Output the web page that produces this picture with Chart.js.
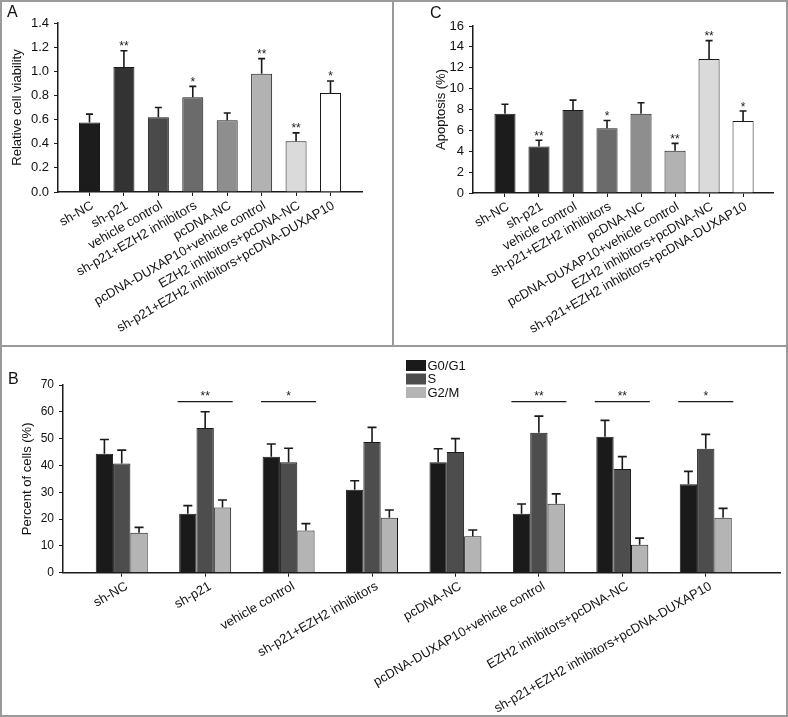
<!DOCTYPE html>
<html>
<head>
<meta charset="utf-8">
<script src="https://cdn.jsdelivr.net/npm/chart.js@4.4.0/dist/chart.umd.min.js"></script>
<style>
html, body { margin: 0; padding: 0; background: #fff; }
#fig { position: relative; width: 788px; height: 717px; overflow: hidden; }
canvas { position: absolute; }
.lbl { position: absolute; font: 16px "Liberation Sans", Arial, sans-serif; color: #111; }
.rule { position: absolute; background: #9a9a9a; }
</style>
</head>
<body>
<div id="fig">
  <canvas id="chartA" width="393" height="346" style="left:0;top:0"></canvas>
  <canvas id="chartC" width="395" height="346" style="left:393px;top:0"></canvas>
  <canvas id="chartB" width="788" height="371" style="left:0;top:346px"></canvas>
  <div class="lbl" style="left:7px;top:3px">A</div>
  <div class="lbl" style="left:430px;top:4px">C</div>
  <div class="lbl" style="left:8px;top:370px">B</div>
  <div class="rule" style="left:0;top:0;width:788px;height:2px"></div>
  <div class="rule" style="left:0;top:715px;width:788px;height:2px"></div>
  <div class="rule" style="left:0;top:0;width:2px;height:717px"></div>
  <div class="rule" style="left:786px;top:0;width:2px;height:717px"></div>
  <div class="rule" style="left:392px;top:0;width:2px;height:346px"></div>
  <div class="rule" style="left:0;top:345px;width:788px;height:2px"></div>
</div>
<script>
// groups shared by all three panels
const groups = ['sh-NC', 'sh-p21', 'vehicle control', 'sh-p21+EZH2 inhibitors', 'pcDNA-NC',
    'pcDNA-DUXAP10+vehicle control', 'EZH2 inhibitors+pcDNA-NC', 'sh-p21+EZH2 inhibitors+pcDNA-DUXAP10'];

// panel A
const viability = [0.575, 1.035, 0.62, 0.785, 0.595, 0.98, 0.42, 0.82];
const viabilityErr = [0.07, 0.135, 0.08, 0.09, 0.06, 0.125, 0.07, 0.10];
const viabilityStars = ['', '**', '', '*', '', '**', '**', '*'];

// panel C
const apoptosis = [7.6, 4.45, 7.95, 6.2, 7.6, 4.05, 12.85, 6.9];
const apoptosisErr = [0.9, 0.6, 0.95, 0.75, 1.05, 0.7, 1.75, 0.95];
const apoptosisStars = ['', '**', '', '*', '', '**', '**', '*'];

// panel B
const phases = ['G0/G1', 'S', 'G2/M'];
const g0g1 = [44.4, 22.0, 43.2, 30.9, 41.2, 22.0, 50.7, 33.0];
const g0g1Err = [5.3, 3.0, 4.8, 3.4, 5.0, 3.6, 6.1, 4.8];
const sPhase = [40.7, 54.0, 41.2, 48.7, 45.0, 52.2, 38.7, 46.2];
const sPhaseErr = [5.0, 6.0, 5.2, 5.5, 5.0, 6.2, 4.6, 5.4];
const g2m = [14.9, 24.3, 15.7, 20.5, 13.6, 25.7, 10.4, 20.5];
const g2mErr = [2.0, 2.8, 2.6, 2.9, 2.3, 3.7, 2.5, 3.5];
const cycleStars = ['', '**', '*', '', '', '**', '**', '*'];
const cycleSigLevel = 63.8;

const groupGreys = ['#1c1c1c', '#333333', '#4a4a4a', '#6b6b6b', '#8e8e8e', '#b2b2b2', '#dadada', '#ffffff'];
const phaseGreys = ['#1a1a1a', '#4d4d4d', '#b4b4b4'];

const FONT = '"Liberation Sans", Arial, sans-serif';
const INK = '#1a1a1a';
Chart.defaults.font.family = FONT;
Chart.defaults.color = '#111';

const points = arr => arr.map((v, i) => ({x: i, y: v}));

// upper error bars + stars, read from dataset.errors / dataset.stars
function errorBars(cap) {
    return {
        id: 'errorBars',
        afterDatasetsDraw(chart) {
            const ctx = chart.ctx;
            const ys = chart.scales.y;
            chart.data.datasets.forEach((ds, di) => {
                const meta = chart.getDatasetMeta(di);
                meta.data.forEach((bar, i) => {
                    const top = ys.getPixelForValue(ds.data[i].y + ds.errors[i]);
                    ctx.save();
                    ctx.strokeStyle = INK;
                    ctx.lineWidth = 1.6;
                    ctx.beginPath();
                    ctx.moveTo(bar.x, bar.y);
                    ctx.lineTo(bar.x, top);
                    ctx.moveTo(bar.x - cap, top);
                    ctx.lineTo(bar.x + cap, top);
                    ctx.stroke();
                    if (ds.stars && ds.stars[i]) {
                        ctx.fillStyle = INK;
                        ctx.font = '12px ' + FONT;
                        ctx.textAlign = 'center';
                        ctx.textBaseline = 'alphabetic';
                        ctx.fillText(ds.stars[i], bar.x, top - 0.5);
                    }
                    ctx.restore();
                });
            });
        }
    };
}

const sigLines = {
    id: 'sigLines',
    afterDraw(chart) {
        const ctx = chart.ctx;
        const xs = chart.scales.x, ys = chart.scales.y;
        const py = ys.getPixelForValue(cycleSigLevel);
        ctx.save();
        ctx.strokeStyle = INK;
        ctx.lineWidth = 1.2;
        ctx.fillStyle = INK;
        ctx.font = '12px ' + FONT;
        ctx.textAlign = 'center';
        cycleStars.forEach((s, i) => {
            if (!s) return;
            const x0 = xs.getPixelForValue(i - 0.33), x1 = xs.getPixelForValue(i + 0.33);
            ctx.beginPath();
            ctx.moveTo(x0, py);
            ctx.lineTo(x1, py);
            ctx.stroke();
            ctx.fillText(s, (x0 + x1) / 2, py - 1.5);
        });
        ctx.restore();
    }
};

const legendB = {
    id: 'legendB',
    afterDraw(chart) {
        const ctx = chart.ctx;
        ctx.save();
        ctx.font = '13px ' + FONT;
        ctx.textBaseline = 'middle';
        phases.forEach((p, i) => {
            const y = 14 + i * 13.5;
            ctx.fillStyle = phaseGreys[i];
            ctx.fillRect(406, y, 20, 11);
            ctx.fillStyle = '#111';
            ctx.fillText(p, 427.5, y + 6);
        });
        ctx.restore();
    }
};

function axes(o) {
    return {
        x: {
            type: 'linear',
            offset: false,
            min: o.xmin,
            max: o.xmax,
            afterBuildTicks: s => { s.ticks = groups.map((g, i) => ({value: i})); },
            afterFit: s => { s.height = o.xh; },
            ticks: {
                autoSkip: false,
                minRotation: 30,
                maxRotation: 30,
                padding: 2,
                labelOffset: o.shift,
                font: {size: 13},
                callback: v => groups[v]
            },
            grid: {drawOnChartArea: false, offset: false, tickLength: 4, color: INK, lineWidth: 1},
            border: {color: INK, width: 1.5}
        },
        y: {
            min: 0,
            max: o.ymax,
            afterFit: s => { s.width = o.yw; },
            ticks: {
                stepSize: o.step,
                padding: 5,
                font: {size: o.tickSize},
                callback: v => o.digits ? v.toFixed(o.digits) : v
            },
            title: {display: true, text: o.title, font: {size: 13}, padding: {top: 4, bottom: 0}},
            grid: {drawOnChartArea: false, tickLength: 4, color: INK, lineWidth: 1},
            border: {color: INK, width: 1.5}
        }
    };
}

const baseOptions = {
    responsive: false,
    animation: false,
    plugins: {legend: {display: false}, tooltip: {enabled: false}}
};

new Chart(document.getElementById('chartA'), {
    type: 'bar',
    data: {
        datasets: [{
            data: points(viability),
            errors: viabilityErr,
            stars: viabilityStars,
            backgroundColor: groupGreys,
            borderColor: INK,
            borderWidth: 1,
            categoryPercentage: 0.61,
            barPercentage: 1
        }]
    },
    options: Object.assign({}, baseOptions, {
        layout: {padding: {left: 6, top: 23, right: 31, bottom: 4}},
        scales: axes({xmin: -0.915, xmax: 7.915, xh: 150, ymax: 1.4, step: 0.2, digits: 1,
            yw: 52, tickSize: 13, shift: 3, title: 'Relative cell viability'})
    }),
    plugins: [errorBars(3.5)]
});

new Chart(document.getElementById('chartC'), {
    type: 'bar',
    data: {
        datasets: [{
            data: points(apoptosis),
            errors: apoptosisErr,
            stars: apoptosisStars,
            backgroundColor: groupGreys,
            borderColor: INK,
            borderWidth: 1,
            categoryPercentage: 0.62,
            barPercentage: 1
        }]
    },
    options: Object.assign({}, baseOptions, {
        layout: {padding: {left: 37, top: 26, right: 15, bottom: 4}},
        scales: axes({xmin: -0.94, xmax: 7.88, xh: 149, ymax: 16, step: 2, digits: 0,
            yw: 43, tickSize: 13, shift: 3, title: 'Apoptosis (%)'})
    }),
    plugins: [errorBars(3.5)]
});

const cycleValues = [g0g1, sPhase, g2m];
const cycleErrors = [g0g1Err, sPhaseErr, g2mErr];

new Chart(document.getElementById('chartB'), {
    type: 'bar',
    data: {
        datasets: phases.map((p, k) => ({
            label: p,
            data: points(cycleValues[k]),
            errors: cycleErrors[k],
            backgroundColor: phaseGreys[k],
            borderColor: INK,
            borderWidth: 1,
            categoryPercentage: 0.623,
            barPercentage: 1
        }))
    },
    options: Object.assign({}, baseOptions, {
        layout: {padding: {left: 16, top: 39, right: 8, bottom: 4}},
        scales: axes({xmin: -0.704, xmax: 7.89, xh: 140.3, ymax: 70, step: 10, digits: 0,
            yw: 47, tickSize: 12, shift: 5, title: 'Percent of cells (%)'})
    }),
    plugins: [errorBars(4.5), sigLines, legendB]
});
</script>
</body>
</html>
